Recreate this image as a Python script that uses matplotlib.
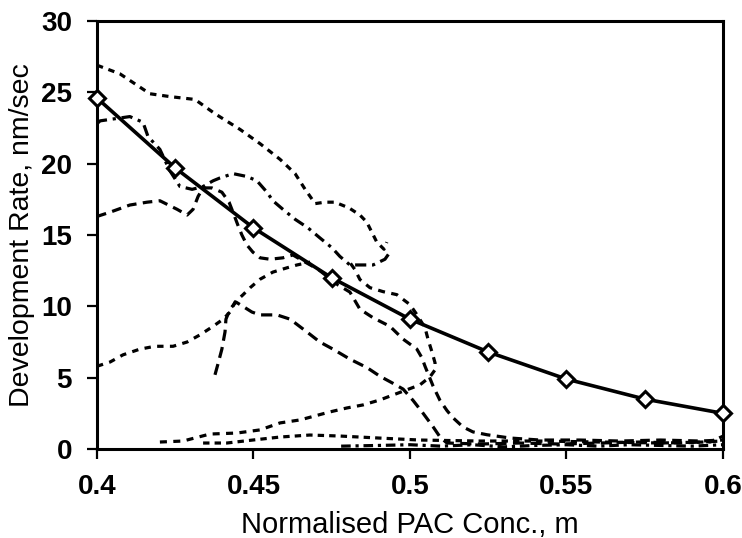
import matplotlib
matplotlib.use("Agg")
import matplotlib.pyplot as plt


# model curve (solid line with diamonds)
model_conc = [0.4, 0.425, 0.45, 0.475, 0.5, 0.525, 0.55, 0.575, 0.6]
model_rate = [24.6, 19.7, 15.5, 12.0, 9.1, 6.8, 4.9, 3.5, 2.5]

meas_a_conc = [0.400, 0.4073, 0.4169, 0.4233, 0.4313, 0.4377, 0.4457, 0.4521, 0.4585, 0.4633,
               0.4665, 0.4697, 0.4728, 0.4760, 0.4805, 0.4840, 0.4862, 0.4878, 0.4894, 0.4917, 0.4926]
meas_a_rate = [26.9, 26.3, 24.9, 24.7, 24.5, 23.5, 22.4, 21.4, 20.3, 19.3,
               18.2, 17.2, 17.3, 17.3, 16.9, 16.4, 15.9, 15.2, 14.5, 14.0, 14.5]

meas_b_conc = [0.400, 0.4010, 0.4105, 0.4147, 0.4163, 0.4201, 0.4233, 0.4265, 0.4304, 0.4339,
               0.4371, 0.4393, 0.4435, 0.4479, 0.4511, 0.4543, 0.4562, 0.4594, 0.4633, 0.4674,
               0.4712, 0.4751, 0.4776, 0.4808, 0.4847, 0.4882, 0.4920, 0.4936]
meas_b_rate = [22.8, 23.0, 23.3, 22.9, 21.9, 21.0, 19.5, 18.4, 18.2, 18.4,
               18.8, 19.0, 19.3, 19.1, 18.8, 18.0, 17.4, 16.8, 16.1, 15.5,
               14.8, 14.1, 13.5, 12.9, 12.9, 12.9, 13.3, 13.8]

meas_c_conc = [0.400, 0.4042, 0.4105, 0.4160, 0.4201, 0.4256, 0.4288, 0.4307, 0.4323, 0.4339,
               0.4367, 0.4399, 0.4422, 0.4438, 0.4450, 0.4463, 0.4479, 0.4498, 0.4521, 0.4553,
               0.4594, 0.4626, 0.4665, 0.4706, 0.4770, 0.4808, 0.4840, 0.4882, 0.4936, 0.4978,
               0.5022, 0.5038, 0.5048, 0.5074, 0.5096, 0.5118, 0.5137, 0.5169, 0.5201, 0.5246,
               0.532, 0.5415, 0.5543, 0.567, 0.580, 0.5927, 0.600]
meas_c_rate = [16.3, 16.6, 17.1, 17.3, 17.4, 16.8, 16.4, 16.8, 17.7, 18.3,
               18.3, 18.0, 17.3, 16.4, 15.7, 15.0, 14.3, 13.8, 13.4, 13.3,
               13.4, 13.6, 13.1, 12.6, 11.5, 11.0, 9.8, 9.2, 8.6, 7.7,
               7.0, 6.4, 5.8, 4.4, 3.4, 2.7, 2.2, 1.55, 1.2, 1.0,
               0.77, 0.63, 0.63, 0.56, 0.63, 0.56, 0.63]

meas_d_conc = [0.4377, 0.4387, 0.4399, 0.4409, 0.4412, 0.4425, 0.4444, 0.4466, 0.4495, 0.4521,
               0.4575, 0.4617, 0.4671, 0.4712, 0.4754, 0.4808, 0.4863, 0.4904, 0.4946, 0.4978,
               0.5010, 0.5042, 0.5074, 0.5096, 0.5118, 0.5224, 0.535, 0.548, 0.5607, 0.5735,
               0.5863, 0.5997]
meas_d_rate = [5.2, 6.0, 7.0, 8.2, 9.1, 9.8, 10.3, 10.0, 9.6, 9.4,
               9.4, 9.1, 8.2, 7.5, 7.0, 6.3, 5.7, 5.1, 4.6, 4.2,
               3.4, 2.5, 1.55, 0.84, 0.42, 0.35, 0.42, 0.35, 0.42, 0.49,
               0.42, 0.56]

meas_e_conc = [0.400, 0.4042, 0.4083, 0.4137, 0.4185, 0.4243, 0.4288, 0.4329, 0.4371, 0.4403,
               0.4425, 0.4441, 0.4466, 0.4489, 0.4521, 0.4562, 0.4607, 0.4639, 0.4681]
meas_e_rate = [5.8, 6.1, 6.6, 7.0, 7.2, 7.2, 7.5, 8.0, 8.6, 9.1,
               9.6, 10.3, 10.8, 11.3, 11.9, 12.4, 12.7, 12.9, 13.1]

meas_f_conc = [0.4201, 0.4275, 0.4361, 0.4447, 0.4521, 0.4585, 0.4649, 0.4744, 0.4799, 0.4850,
               0.4904, 0.4946, 0.4990, 0.5032, 0.5064, 0.5080, 0.5080, 0.5070, 0.5058, 0.5048,
               0.5022, 0.5000, 0.4958, 0.4914, 0.4872, 0.4840, 0.4824, 0.4808]
meas_f_rate = [0.49, 0.56, 1.05, 1.12, 1.34, 1.83, 2.04, 2.6, 2.88, 3.09,
               3.44, 3.79, 4.15, 4.5, 5.06, 5.55, 6.04, 6.82, 7.66, 8.5,
               9.42, 10.12, 10.82, 11.03, 11.31, 11.88, 12.58, 13.07]

meas_g_conc = [0.4339, 0.4415, 0.4498, 0.4585, 0.468, 0.4776, 0.490, 0.503, 0.522, 0.5415,
               0.5607, 0.580, 0.596, 0.600]
meas_g_rate = [0.42, 0.42, 0.63, 0.84, 0.98, 0.91, 0.77, 0.63, 0.56, 0.56,
               0.49, 0.42, 0.5, 0.9]

meas_h_conc = [0.478, 0.490, 0.500, 0.510, 0.520, 0.530, 0.540, 0.550, 0.560, 0.570, 0.580, 0.590, 0.600]
meas_h_rate = [0.2, 0.25, 0.3, 0.2, 0.3, 0.15, 0.25, 0.3, 0.2, 0.3, 0.25, 0.2, 0.3]

x_ticks = [0.4, 0.45, 0.5, 0.55, 0.6]
x_tick_labels = ["0.4", "0.45", "0.5", "0.55", "0.6"]
y_ticks = [0, 5, 10, 15, 20, 25, 30]


def main():
    plt.rcParams["font.family"] = ["Liberation Sans", "DejaVu Sans"]
    fig = plt.figure(figsize=(7.42, 5.38), dpi=100)
    ax = fig.add_axes([0.1307, 0.1654, 0.8437, 0.7956])

    dashed = [
        (meas_a_conc, meas_a_rate, (0, (2, 1.8))),
        (meas_b_conc, meas_b_rate, (0, (3.5, 1.8, 1, 1.8))),
        (meas_c_conc, meas_c_rate, (0, (3, 2))),
        (meas_d_conc, meas_d_rate, (0, (3.5, 2))),
        (meas_e_conc, meas_e_rate, (0, (2, 2))),
        (meas_f_conc, meas_f_rate, (0, (2.2, 2))),
        (meas_g_conc, meas_g_rate, (0, (2, 1.6))),
        (meas_h_conc, meas_h_rate, (0, (3, 1.5, 1, 1.5))),
    ]
    for conc, rate, style in dashed:
        ax.plot(conc, rate, color="black", lw=2.3, linestyle=style)

    ax.plot(model_conc, model_rate, color="black", lw=2.6, marker="D", markersize=8,
            markerfacecolor="white", markeredgecolor="black", markeredgewidth=2.2,
            clip_on=False, zorder=5)

    ax.set_xlim(0.4, 0.6)
    ax.set_ylim(0, 30)
    ax.set_xticks(x_ticks)
    ax.set_xticklabels(x_tick_labels)
    ax.set_yticks(y_ticks)
    for spine in ax.spines.values():
        spine.set_linewidth(2.2)
    ax.tick_params(direction="out", length=7, width=1.6, labelsize=20, pad=11)
    for lab in ax.get_xticklabels() + ax.get_yticklabels():
        lab.set_fontweight("bold")

    ax.set_xlabel("Normalised PAC Conc., m", fontsize=21, labelpad=8)
    ax.set_ylabel("Development Rate, nm/sec", fontsize=20.5, labelpad=4)

    fig.savefig("out.png", dpi=100)


if __name__ == "__main__":
    main()
